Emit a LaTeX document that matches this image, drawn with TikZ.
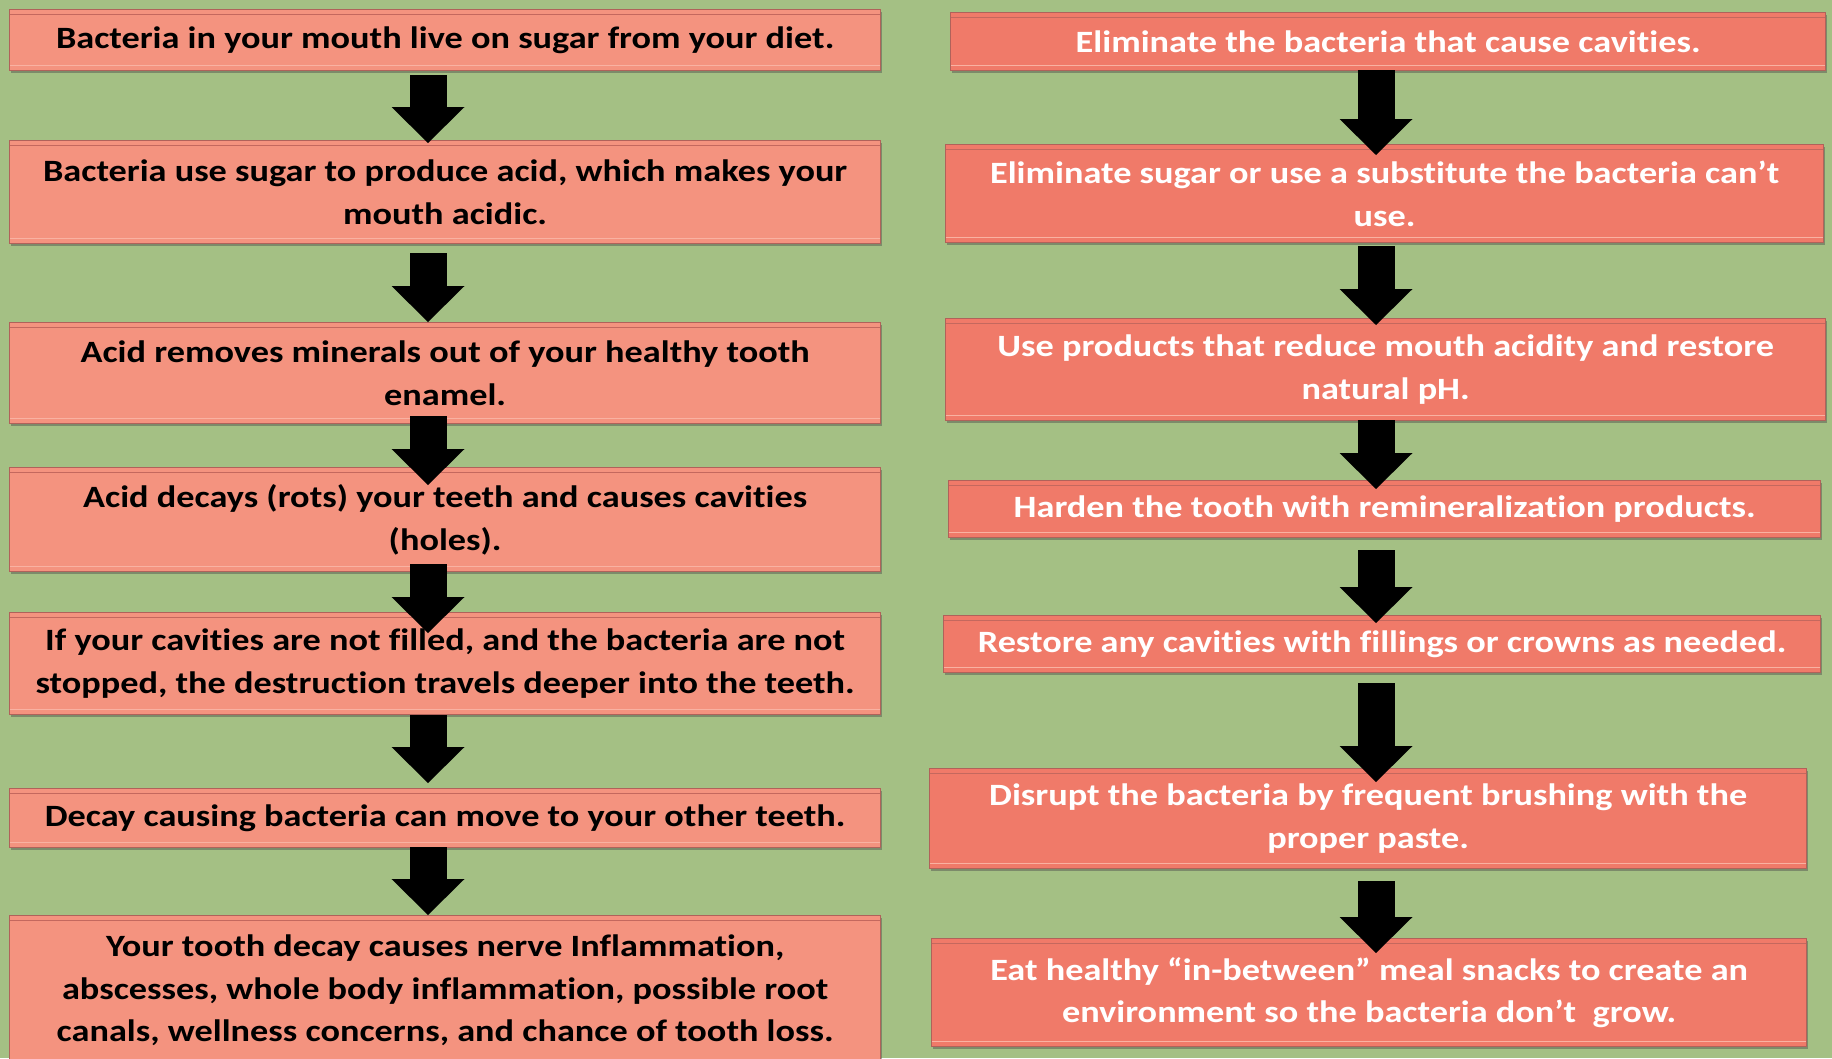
\documentclass[tikz,border=0pt]{standalone}
\usepackage{fontspec}
\setmainfont{Carlito}[FakeStretch=1.17, Ligatures=NoCommon]
\usetikzlibrary{arrows.meta,calc,shadows}
\definecolor{bggreen}{HTML}{A4C084}
\definecolor{lfill}{HTML}{F4937F}
\definecolor{rfill}{HTML}{F07A69}
\definecolor{bedge}{HTML}{B0625A}
\definecolor{bdark}{HTML}{C4685E}
\definecolor{blight}{HTML}{F9B2A2}
\begin{document}
\begin{tikzpicture}[x=1pt,y=-1pt,
  box/.style={draw=bedge, line width=1.3pt, inner sep=0pt, anchor=north west,
    align=center, font=\fontsize{31}{42.5}\selectfont\bfseries,
    drop shadow={shadow xshift=1.5pt, shadow yshift=-2.5pt, opacity=0.45, fill=black!70},
    path picture={
      \draw[bdark, line width=0.9pt] ([yshift=-5pt]path picture bounding box.north west) -- ([yshift=-5pt]path picture bounding box.north east);
      \draw[blight, line width=1.6pt] ([yshift=5pt]path picture bounding box.south west) -- ([yshift=5pt]path picture bounding box.south east);
    }},
  lbox/.style={box, fill=lfill, text=black},
  rbox/.style={box, fill=rfill, text=white},
  arr/.style={line width=37pt, black, -{Triangle[width=73pt,length=36pt,line width=0pt]}}
]
\useasboundingbox (0,0) rectangle (1832,1058);
\clip (0,0) rectangle (1832,1058);
\fill[bggreen] (0,0) rectangle (1832,1058);
\coordinate (cl) at (428,0);
\coordinate (cr) at (1376,0);

% left column
\node[lbox, minimum width=871pt, minimum height=61pt] (l1) at (9,9)
  {Bacteria in your mouth live on sugar from your diet.};
\node[lbox, minimum width=871pt, minimum height=103pt] (l2) at (9,140)
  {Bacteria use sugar to produce acid, which makes your\\mouth acidic.};
\node[lbox, minimum width=871pt, minimum height=101pt] (l3) at (9,322)
  {Acid removes minerals out of your healthy tooth\\enamel.};
\node[lbox, minimum width=871pt, minimum height=104pt] (l4) at (9,467)
  {Acid decays (rots) your teeth and causes cavities\\(holes).};
\node[lbox, minimum width=871pt, minimum height=102pt] (l5) at (9,612)
  {If your cavities are not filled, and the bacteria are not\\stopped, the destruction travels deeper into the teeth.};
\node[lbox, minimum width=871pt, minimum height=59pt] (l6) at (9,788)
  {Decay causing bacteria can move to your other teeth.};
\node[lbox, minimum width=871pt, minimum height=150pt] (l7) at (9,915)
  {Your tooth decay causes nerve Inflammation,\\abscesses, whole body inflammation, possible root\\canals, wellness concerns, and chance of tooth loss.};

% right column
\node[rbox, minimum width=875pt, minimum height=58pt] (r1) at (950,12)
  {Eliminate the bacteria that cause cavities.};
\node[rbox, minimum width=878pt, minimum height=98pt] (r2) at (945,144)
  {Eliminate sugar or use a substitute the bacteria can’t\\use.};
\node[rbox, minimum width=880pt, minimum height=102pt] (r3) at (945,318)
  {Use products that reduce mouth acidity and restore\\natural pH.};
\node[rbox, minimum width=872pt, minimum height=57pt] (r4) at (948,480)
  {Harden the tooth with remineralization products.};
\node[rbox, minimum width=877pt, minimum height=57pt] (r5) at (943,615)
  {Restore any cavities with fillings or crowns as needed.};
\node[rbox, minimum width=877pt, minimum height=100pt] (r6) at (929,768)
  {Disrupt the bacteria by frequent brushing with the\\proper paste.};
\node[rbox, minimum width=875pt, minimum height=108pt] (r7) at (931,938)
  {Eat healthy “in-between” meal snacks to create an\\environment so the bacteria don’t\ \ grow.};

% left arrows
\draw[arr] ($(l1.south -| cl)+(0,4)$) -- ($(l2.north -| cl)+(0,3)$);
\draw[arr] ($(l2.south -| cl)+(0,9)$) -- ($(l3.north -| cl)+(0,0)$);
\draw[arr] ($(l3.south -| cl)+(0,-8)$) -- ($(l4.north -| cl)+(0,18)$);
\draw[arr] ($(l4.south -| cl)+(0,-8)$) -- ($(l5.north -| cl)+(0,21)$);
\draw[arr] ($(l5.south -| cl)+(0,0)$) -- ($(l6.north -| cl)+(0,-5)$);
\draw[arr] ($(l6.south -| cl)+(0,-1)$) -- ($(l7.north -| cl)+(0,0)$);

% right arrows
\draw[arr] ($(r1.south -| cr)+(0,-1)$) -- ($(r2.north -| cr)+(0,11)$);
\draw[arr] ($(r2.south -| cr)+(0,3)$) -- ($(r3.north -| cr)+(0,7)$);
\draw[arr] ($(r3.south -| cr)+(0,-1)$) -- ($(r4.north -| cr)+(0,9)$);
\draw[arr] ($(r4.south -| cr)+(0,12)$) -- ($(r5.north -| cr)+(0,8)$);
\draw[arr] ($(r5.south -| cr)+(0,10)$) -- ($(r6.north -| cr)+(0,14)$);
\draw[arr] ($(r6.south -| cr)+(0,12)$) -- ($(r7.north -| cr)+(0,15)$);
\end{tikzpicture}
\end{document}
